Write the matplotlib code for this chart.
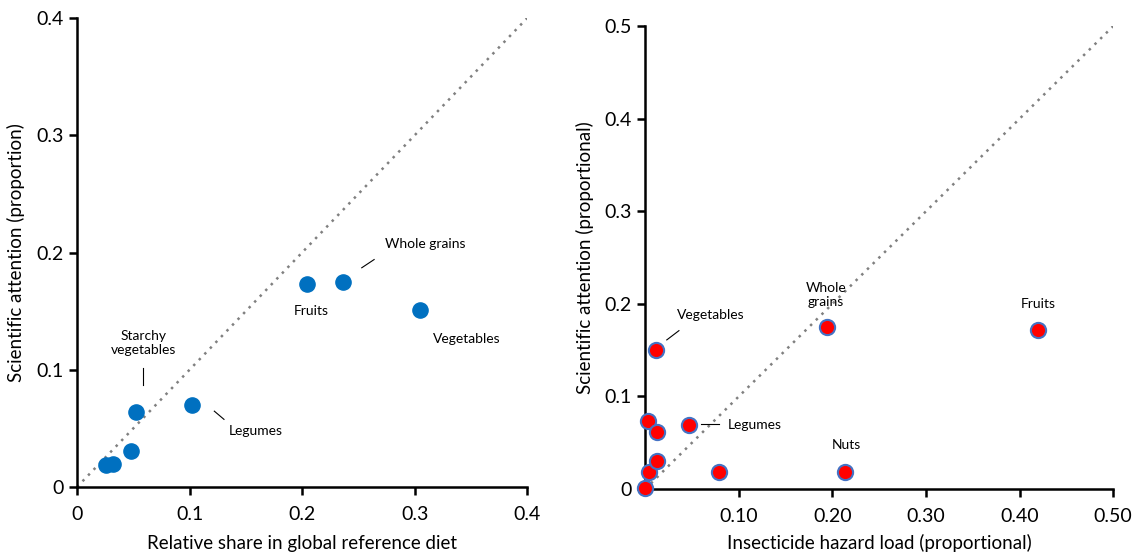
import matplotlib
matplotlib.use("Agg")
import matplotlib.pyplot as plt

plt.rcParams['font.family'] = ['Lato', 'DejaVu Sans']

# Left panel data: relative share in diet vs scientific attention
diet_share = [0.026, 0.032, 0.048, 0.052, 0.102, 0.204, 0.236, 0.305]
attention_left = [0.019, 0.0196, 0.031, 0.064, 0.070, 0.173, 0.175, 0.151]

# Right panel data: insecticide hazard load vs scientific attention
hazard = [0.0, 0.0035, 0.003, 0.0127, 0.013, 0.011, 0.047, 0.079, 0.194, 0.2136, 0.420]
attention_right = [0.001, 0.018, 0.073, 0.062, 0.030, 0.150, 0.069, 0.018, 0.175, 0.018, 0.172]

left_ticks = [0, 0.1, 0.2, 0.3, 0.4]
left_ticklabels = ["0", "0.1", "0.2", "0.3", "0.4"]
right_xticks = [0.10, 0.20, 0.30, 0.40, 0.50]
right_xticklabels = ["0.10", "0.20", "0.30", "0.40", "0.50"]
right_yticks = [0, 0.1, 0.2, 0.3, 0.4, 0.5]
right_yticklabels = ["0", "0.1", "0.2", "0.3", "0.4", "0.5"]

fig = plt.figure(figsize=(11.34, 5.55), dpi=100)
ax1 = fig.add_axes([0.0679, 0.1225, 0.397, 0.845])
ax2 = fig.add_axes([0.569, 0.119, 0.4127, 0.834])

def style(ax):
    for s in ['top', 'right']:
        ax.spines[s].set_visible(False)
    for s in ['left', 'bottom']:
        ax.spines[s].set_linewidth(1.8)
        ax.spines[s].set_color('black')
    ax.tick_params(axis='both', direction='out', length=6, width=1.8, labelsize=14, colors='black')
    ax.tick_params(axis='x', pad=8)

# Left
ax1.plot([0, 0.4], [0, 0.4], linestyle=(0, (1, 2.2)), color='#808080', linewidth=1.8, zorder=1)
ax1.scatter(diet_share, attention_left, s=120, color='#0070C0', edgecolors='#0070C0', zorder=3)
ax1.set_xlim(0, 0.4)
ax1.set_ylim(0, 0.4)
ax1.set_xticks(left_ticks)
ax1.set_xticklabels(left_ticklabels)
ax1.set_yticks(left_ticks)
ax1.set_yticklabels(left_ticklabels)
style(ax1)
ax1.set_xlabel("Relative share in global reference diet", fontsize=13.5, labelpad=8)
ax1.set_ylabel("Scientific attention (proportion)", fontsize=13.5, labelpad=8)

lab_fs = 10
ax1.text(0.309, 0.207, "Whole grains", fontsize=lab_fs, ha='center', va='center')
ax1.plot([0.253, 0.264], [0.187, 0.194], color='black', linewidth=0.8)
ax1.text(0.208, 0.150, "Fruits", fontsize=lab_fs, ha='center', va='center')
ax1.text(0.346, 0.1265, "Vegetables", fontsize=lab_fs, ha='center', va='center')
ax1.text(0.059, 0.1225, "Starchy\nvegetables", fontsize=lab_fs, ha='center', va='center', linespacing=1.2)
ax1.plot([0.059, 0.059], [0.087, 0.1015], color='black', linewidth=0.8)
ax1.text(0.159, 0.048, "Legumes", fontsize=lab_fs, ha='center', va='center')
ax1.plot([0.122, 0.1306], [0.0647, 0.0577], color='black', linewidth=0.8)

# Right
ax2.plot([0, 0.5], [0, 0.5], linestyle=(0, (1, 2.2)), color='#808080', linewidth=1.8, zorder=1)
ax2.scatter(hazard, attention_right, s=120, color='#FF0000', edgecolors='#4472C4', linewidths=1.5, zorder=3, clip_on=False)
ax2.set_xlim(0, 0.5)
ax2.set_ylim(0, 0.5)
ax2.set_xticks(right_xticks)
ax2.set_xticklabels(right_xticklabels)
ax2.set_yticks(right_yticks)
ax2.set_yticklabels(right_yticklabels)
style(ax2)
ax2.set_xlabel("Insecticide hazard load (proportional)", fontsize=13.5, labelpad=6)
ax2.set_ylabel("Scientific attention (proportional)", fontsize=13.5, labelpad=8)

ax2.text(0.070, 0.1876, "Vegetables", fontsize=lab_fs, ha='center', va='center')
ax2.plot([0.023, 0.036], [0.161, 0.171], color='black', linewidth=0.8)
ax2.text(0.193, 0.21, "Whole\ngrains", fontsize=lab_fs, ha='center', va='center', linespacing=1.2)
ax2.text(0.420, 0.200, "Fruits", fontsize=lab_fs, ha='center', va='center')
ax2.text(0.117, 0.069, "Legumes", fontsize=lab_fs, ha='center', va='center')
ax2.plot([0.060, 0.079], [0.0705, 0.0705], color='black', linewidth=0.8)
ax2.text(0.215, 0.048, "Nuts", fontsize=lab_fs, ha='center', va='center')

fig.savefig("out.png", dpi=100)
